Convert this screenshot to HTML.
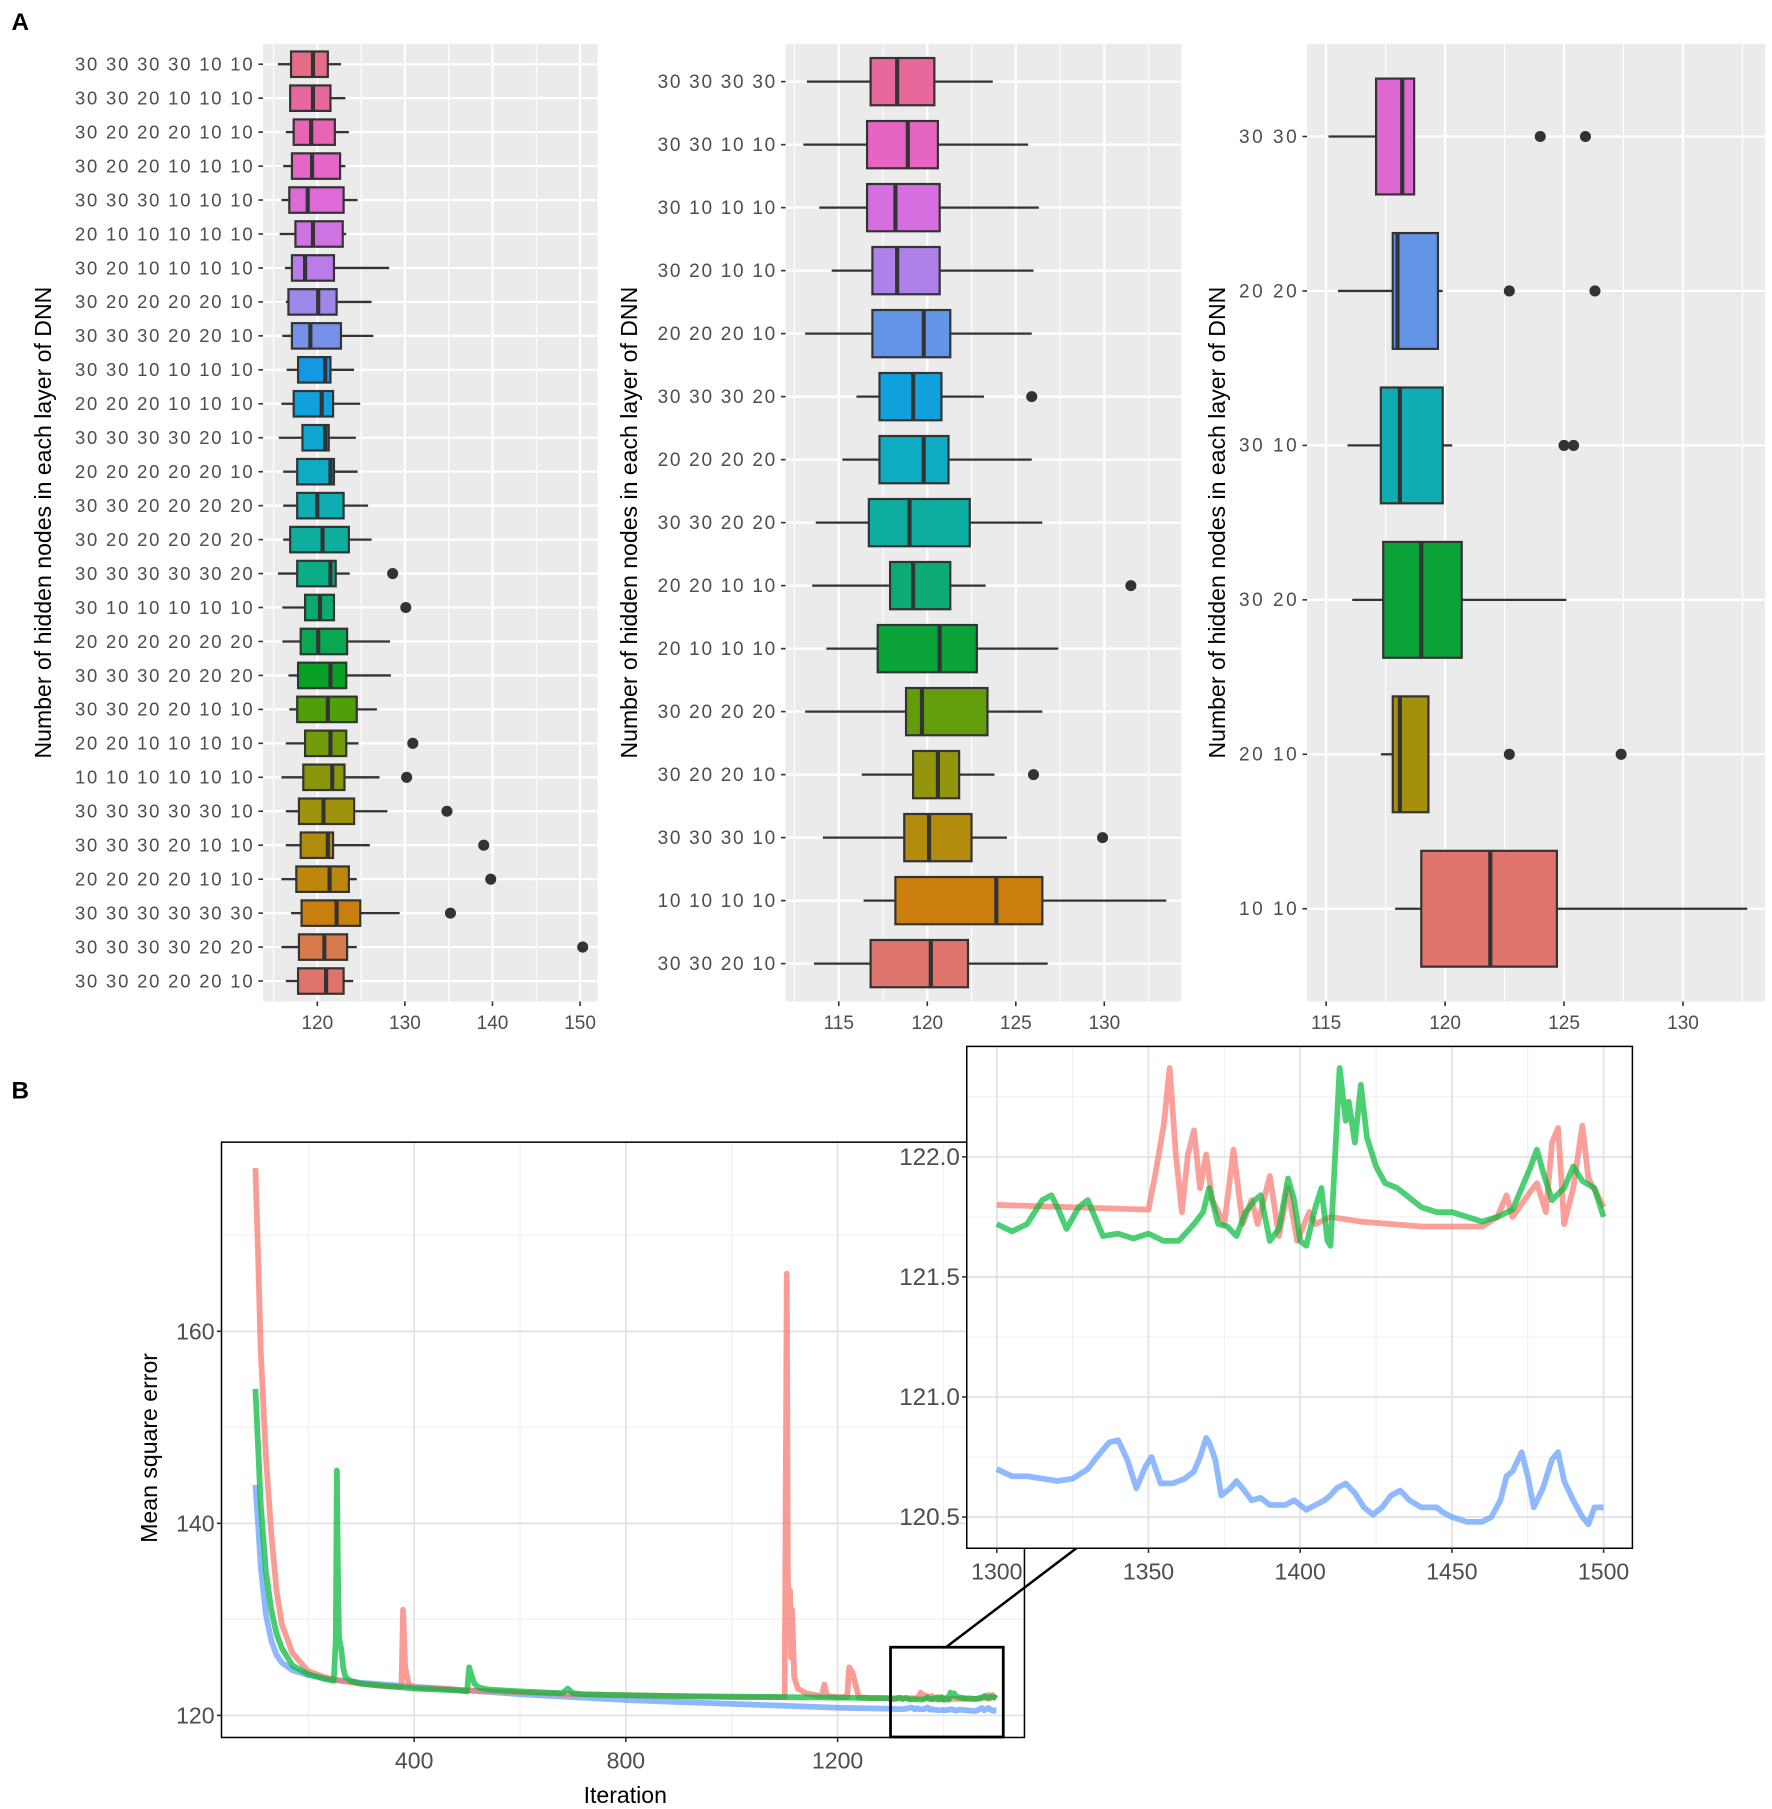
<!DOCTYPE html>
<html><head><meta charset="utf-8"><style>
html,body{margin:0;padding:0;background:#fff;}
svg{display:block;}
text{font-family:"Liberation Sans",Arial,sans-serif;}
</style></head><body>
<svg id="fig" width="1772" height="1809" viewBox="0 0 1536 1568" preserveAspectRatio="none" xmlns="http://www.w3.org/2000/svg">
<rect width="1536" height="1568" fill="#fff"/>
<text x="10" y="26" font-size="21" font-weight="bold">A</text>
<text x="10" y="952" font-size="21" font-weight="bold">B</text>
</svg>
<script>
// ---------- Panel A data ----------
const labels1 = ["30 30 30 30 10 10","30 30 20 10 10 10","30 20 20 20 10 10","30 20 20 10 10 10","30 30 30 10 10 10","20 10 10 10 10 10","30 20 10 10 10 10","30 20 20 20 20 10","30 30 30 20 20 10","30 30 10 10 10 10","20 20 20 10 10 10","30 30 30 30 20 10","20 20 20 20 20 10","30 30 20 20 20 20","30 20 20 20 20 20","30 30 30 30 30 20","30 10 10 10 10 10","20 20 20 20 20 20","30 30 30 20 20 20","30 30 20 20 10 10","20 20 10 10 10 10","10 10 10 10 10 10","30 30 30 30 30 10","30 30 30 20 10 10","20 20 20 20 10 10","30 30 30 30 30 30","30 30 30 30 20 20","30 30 20 20 20 10"];
const lo1  = [115.5,116.8,116.4,116.1,115.9,115.7,116.3,116.4,116.0,116.5,115.9,115.6,116.1,116.1,116.1,115.5,116.0,116.0,116.7,116.8,116.4,115.9,116.4,116.4,115.9,117.0,115.9,116.4];
const q1_1 = [117.0,116.9,117.3,117.1,116.8,117.5,117.1,116.7,117.1,117.8,117.3,118.3,117.7,117.7,116.9,117.7,118.6,118.1,117.8,117.7,118.6,118.4,117.9,118.1,117.6,118.2,117.9,117.8];
const med1 = [119.5,119.5,119.3,119.4,118.9,119.5,118.6,120.1,119.2,120.9,120.5,120.9,121.5,120.0,120.6,121.5,120.3,120.1,121.5,121.2,121.5,121.7,120.7,121.2,121.4,122.2,120.8,121.0];
const q3_1 = [121.2,121.5,122.0,122.6,123.0,122.9,121.9,122.2,122.7,121.5,121.8,121.3,121.9,123.0,123.6,122.1,121.9,123.4,123.3,124.5,123.3,123.1,124.2,121.8,123.6,124.9,123.4,123.0];
const hi1  = [122.7,123.2,123.6,123.2,124.6,123.3,128.2,126.2,126.4,124.2,124.9,124.4,124.6,125.8,126.2,123.7,122.0,128.3,128.4,126.8,124.7,127.1,128.0,126.0,124.5,129.4,124.5,124.1];
const out1 = [[],[],[],[],[],[],[],[],[],[],[],[],[],[],[],[128.6],[130.1],[],[],[],[130.9],[130.2],[134.8],[139.0],[139.8],[135.2],[150.3],[]];
const ticks1 = [120,130,140,150];

const labels2 = ["30 30 30 30","30 30 10 10","30 10 10 10","30 20 10 10","20 20 20 10","30 30 30 20","20 20 20 20","30 30 20 20","20 20 10 10","20 10 10 10","30 20 20 20","30 20 20 10","30 30 30 10","10 10 10 10","30 30 20 10"];
const lo2  = [113.2,113.0,113.9,114.6,113.1,116.0,115.2,113.7,113.5,114.3,113.1,116.3,114.1,116.4,113.6];
const q1_2 = [116.8,116.6,116.6,116.9,116.9,117.3,117.3,116.7,117.9,117.2,118.8,119.2,118.7,118.2,116.8];
const med2 = [118.3,118.9,118.2,118.3,119.8,119.2,119.8,119.0,119.2,120.7,119.7,120.6,120.1,123.9,120.2];
const q3_2 = [120.4,120.6,120.7,120.7,121.3,120.8,121.2,122.4,121.3,122.8,123.4,121.8,122.5,126.5,122.3];
const hi2  = [123.7,125.7,126.3,126.0,125.9,123.2,125.9,126.5,123.3,127.4,126.5,123.8,124.5,133.5,126.8];
const out2 = [[],[],[],[],[],[125.9],[],[],[131.5],[],[],[126.0],[129.9],[],[]];
const ticks2 = [115,120,125,130];

const labels3 = ["30 30","20 20","30 10","30 20","20 10","10 10"];
const lo3  = [115.1,115.5,115.9,116.1,117.3,117.9];
const q1_3 = [117.1,117.8,117.3,117.4,117.8,119.0];
const med3 = [118.2,118.0,118.1,119.0,118.1,121.9];
const q3_3 = [118.7,119.7,119.9,120.7,119.3,124.7];
const hi3  = [118.7,119.9,120.3,125.1,119.3,132.7];
const out3 = [[124.0,125.9],[122.7,126.3],[125.0,125.4],[],[122.7,127.4],[]];
const ticks3 = [115,120,125,130];

// ---------- Panel B data ----------
const redIt = [100,105,110,120,130,140,150,170,200,230,260,300,350,376,379,383,390,400,450,500,600,700,800,900,1000,1050,1100,1104,1106,1108,1110,1112,1114,1118,1125,1140,1160,1170,1175,1180,1200,1218,1222,1228,1240,1260,1290];
const redV  = [177,168,158,147,139,133,129.5,126.5,124.6,124,123.6,123.3,123,123,131,125,123.2,122.9,122.8,122.6,122.4,122.2,122.1,122,121.9,121.9,121.9,166,135,130,133,126,131,124,122.8,122.3,122.1,122,123.2,122,121.9,121.9,125,124.5,121.9,121.8,121.8];
const greenIt = [100,105,110,120,130,140,150,170,200,230,248,252,254,256,258,262,266,270,280,300,400,480,500,504,508,514,522,540,600,680,690,700,720,800,900,1000,1100,1200,1290];
const greenV  = [154,148,142,135,131,128.5,127,125.2,124.3,123.8,123.6,128,145.5,135,128,127,125,124,123.6,123.3,122.8,122.6,122.5,125,124.2,123.3,122.9,122.7,122.5,122.3,122.8,122.3,122.2,122.1,122,121.95,121.9,121.85,121.8];
const blueIt = [100,105,110,120,130,140,150,170,200,250,300,400,500,600,700,800,900,1000,1100,1200,1290];
const blueV  = [144,140,135.5,130.5,127.8,126.3,125.5,124.7,124.2,123.7,123.4,123,122.6,122.2,121.9,121.6,121.4,121.2,121,120.8,120.7];

const zRedIt = [1300,1350,1352,1355,1357,1359,1361,1363,1365,1367,1369,1371,1375,1378,1381,1384,1386,1390,1393,1396,1399,1403,1405,1410,1420,1440,1460,1465,1468,1470,1475,1478,1481,1483,1485,1487,1490,1493,1495,1498,1500];
const zRedV  = [121.80,121.78,121.91,122.13,122.37,122.01,121.77,122.01,122.11,121.87,122.01,121.82,121.72,122.03,121.72,121.82,121.72,121.92,121.67,121.87,121.65,121.77,121.72,121.75,121.73,121.71,121.71,121.75,121.84,121.75,121.84,121.89,121.77,122.06,122.12,121.72,121.87,122.13,121.91,121.84,121.79];
const zGreenIt = [1300,1305,1310,1315,1318,1320,1323,1327,1330,1335,1340,1345,1350,1355,1360,1365,1368,1370,1373,1376,1379,1382,1385,1387,1390,1393,1396,1398,1400,1402,1405,1407,1409,1410,1413,1415,1416,1418,1420,1422,1425,1428,1432,1437,1440,1445,1450,1455,1460,1465,1470,1473,1476,1478,1480,1483,1487,1490,1493,1497,1500];
const zGreenV  = [121.72,121.69,121.72,121.82,121.84,121.79,121.70,121.79,121.82,121.67,121.68,121.66,121.68,121.65,121.65,121.72,121.77,121.87,121.72,121.71,121.67,121.77,121.82,121.84,121.65,121.70,121.91,121.82,121.65,121.63,121.79,121.87,121.65,121.63,122.37,122.15,122.23,122.06,122.30,122.08,121.96,121.89,121.87,121.82,121.79,121.77,121.77,121.75,121.73,121.75,121.78,121.87,121.96,122.03,121.94,121.82,121.87,121.96,121.90,121.87,121.75];
const zBlueIt = [1300,1305,1310,1315,1320,1325,1330,1333,1337,1340,1343,1346,1349,1351,1354,1358,1362,1365,1367,1369,1370,1372,1374,1377,1379,1381,1384,1387,1390,1395,1398,1402,1405,1408,1410,1412,1415,1418,1421,1424,1427,1430,1433,1436,1440,1445,1447,1450,1455,1460,1463,1466,1468,1470,1473,1475,1477,1480,1483,1485,1487,1490,1493,1495,1497,1500];
const zBlueV  = [120.70,120.67,120.67,120.66,120.65,120.66,120.70,120.75,120.81,120.82,120.74,120.62,120.71,120.75,120.64,120.64,120.66,120.69,120.75,120.83,120.81,120.74,120.59,120.62,120.65,120.62,120.57,120.58,120.55,120.55,120.57,120.53,120.55,120.57,120.59,120.62,120.64,120.60,120.54,120.51,120.54,120.59,120.61,120.57,120.54,120.54,120.52,120.50,120.48,120.48,120.50,120.57,120.67,120.69,120.77,120.67,120.54,120.62,120.74,120.77,120.65,120.57,120.50,120.47,120.54,120.54];
const mainXTicks = [400,800,1200];
const mainYTicks = [120,140,160];
const zXTicks = [1300,1350,1400,1450,1500];
const zYTicks = [120.5,121.0,121.5,122.0];

// ---------- helpers ----------
const NS = "http://www.w3.org/2000/svg";
const svg = document.getElementById('fig');
function el(tag, attrs, parent){
  const e = document.createElementNS(NS, tag);
  for (const k in attrs) e.setAttribute(k, attrs[k]);
  (parent||svg).appendChild(e);
  return e;
}
function lin(d0,d1,r0,r1){ return v => r0 + (v-d0)*(r1-r0)/(d1-d0); }
function hcl(h,c,l){
  const hr=h*Math.PI/180, U=c*Math.cos(hr), V=c*Math.sin(hr);
  const Xn=95.047,Yn=100,Zn=108.883;
  const Y = l>8 ? Yn*Math.pow((l+16)/116,3) : Yn*l/903.3;
  const den=Xn+15*Yn+3*Zn, un=4*Xn/den, vn=9*Yn/den;
  const up=U/(13*l)+un, vp=V/(13*l)+vn;
  const X=9*Y*up/(4*vp), Z=Y*(12-3*up-20*vp)/(4*vp);
  const x=X/100,y=Y/100,z=Z/100;
  let r=3.2404542*x-1.5371385*y-0.4985314*z;
  let g=-0.9692660*x+1.8760108*y+0.0415560*z;
  let b=0.0556434*x-0.2040259*y+1.0572252*z;
  const gm=v=>{v=v<=0.0031308?12.92*v:1.055*Math.pow(v,1/2.4)-0.055;return Math.max(0,Math.min(1,v))*255;};
  const R=gm(r),G=gm(g),B=gm(b);
  const avg=(R+G+B)/3, s=0.88, k=0.94;
  const f=v=>Math.round(Math.max(0,Math.min(255,(avg+(v-avg)*s)*k)));
  return `rgb(${f(R)},${f(G)},${f(B)})`;
}

function boxPanel(cfg){
  const {x0,x1,y0,y1,dmin,dmax,labels,lo,q1,med,q3,hi,out,ticks,minor,labelSize,labelLen,title,titleX,name} = cfg;
  const g = el('g',{});
  
  
  const sx = lin(dmin,dmax,x0,x1);
  const n = labels.length;
  const step = (y1-y0)/(n+0.2);
  const sy = i => y0 + (i+0.6)*step;
  const bg = el('rect',{x:x0,y:y0,width:x1-x0,height:y1-y0,fill:'#EBEBEB'},g);
  
  
  minor.forEach(t=>el('line',{x1:sx(t),x2:sx(t),y1:y0,y2:y1,stroke:'#fff','stroke-width':0.9},g));
  ticks.forEach(t=>el('line',{x1:sx(t),x2:sx(t),y1:y0,y2:y1,stroke:'#fff','stroke-width':1.9},g));
  for(let i=0;i<n;i++) el('line',{x1:x0,x2:x1,y1:sy(i),y2:sy(i),stroke:'#fff','stroke-width':1.9},g);
  const bh = step*0.75;
  for(let i=0;i<n;i++){
    const y=sy(i);
    const col = hcl(15+360*(n-1-i)/n,100,65);
    const wl = el('line',{x1:sx(lo[i]),x2:sx(q1[i]),y1:y,y2:y,stroke:'#333','stroke-width':2},g);
    
    
    const wh = el('line',{x1:sx(q3[i]),x2:sx(hi[i]),y1:y,y2:y,stroke:'#333','stroke-width':2},g);
    
    
    const b = el('rect',{x:sx(q1[i]),y:y-bh/2,width:sx(q3[i])-sx(q1[i]),height:bh,fill:col,stroke:'#333','stroke-width':1.9},g);
    
    
    const m = el('line',{x1:sx(med[i]),x2:sx(med[i]),y1:y-bh/2,y2:y+bh/2,stroke:'#333','stroke-width':3.6},g);
    
    
    out[i].forEach(o=>{
      const c=el('circle',{cx:sx(o),cy:y,r:4.8,fill:'#333'},g);
      
      
    });
    el('line',{x1:x0-4,x2:x0,y1:y,y2:y,stroke:'#333','stroke-width':1.4},g);
    const t = el('text',{x:x0-9,y:y+5.5,'text-anchor':'end','font-size':labelSize,fill:'#4D4D4D',textLength:labelLen,lengthAdjust:'spacing'},g);
    t.textContent = labels[i];
    
    
  }
  ticks.forEach(tv=>{
    el('line',{x1:sx(tv),x2:sx(tv),y1:y1,y2:y1+4,stroke:'#333','stroke-width':1.4},g);
    const t=el('text',{x:sx(tv),y:y1+24,'text-anchor':'middle','font-size':16.5,fill:'#4D4D4D'},g);
    t.textContent=tv;
    
    
  });
  const yt = el('text',{x:titleX,y:(y0+y1)/2,'text-anchor':'middle','font-size':20,fill:'#000',transform:`rotate(-90 ${titleX} ${(y0+y1)/2})`},g);
  yt.textContent = title;
  
  
}
const T = "Number of hidden nodes in each layer of DNN";
boxPanel({name:'boxplot-six-layer',x0:228,x1:518,y0:38,y1:868,dmin:113.8,dmax:152.0,labels:labels1,lo:lo1,q1:q1_1,med:med1,q3:q3_1,hi:hi1,out:out1,ticks:ticks1,minor:[115,125,135,145],labelSize:16,labelLen:154,title:T,titleX:44});
boxPanel({name:'boxplot-four-layer',x0:681,x1:1024,y0:38,y1:868,dmin:112.0,dmax:134.35,labels:labels2,lo:lo2,q1:q1_2,med:med2,q3:q3_2,hi:hi2,out:out2,ticks:ticks2,minor:[112.5,117.5,122.5,127.5,132.5],labelSize:16.5,labelLen:102,title:T,titleX:552});
boxPanel({name:'boxplot-two-layer',x0:1133,x1:1530,y0:38,y1:868,dmin:114.2,dmax:133.45,labels:labels3,lo:lo3,q1:q1_3,med:med3,q3:q3_3,hi:hi3,out:out3,ticks:ticks3,minor:[117.5,122.5,127.5,132.5],labelSize:16.5,labelLen:50,title:T,titleX:1062});

// ---------- Panel B main ----------
const RED='#F8766D', GREEN='#00BA38', BLUE='#619CFF';
(function(){
  const x0=192,x1=888,y0=990,y1=1506;
  const sx=lin(36,1553,x0,x1), sy=lin(117.7,179.7,y1,y0);
  const g=el('g',{});
  
  
  el('rect',{x:x0,y:y0,width:x1-x0,height:y1-y0,fill:'#fff'},g);
  [200,600,1000,1400].forEach(t=>el('line',{x1:sx(t),x2:sx(t),y1:y0,y2:y1,stroke:'#F0F0F0','stroke-width':1},g));
  [130,150,170].forEach(t=>el('line',{x1:x0,x2:x1,y1:sy(t),y2:sy(t),stroke:'#F0F0F0','stroke-width':1},g));
  mainXTicks.forEach(t=>el('line',{x1:sx(t),x2:sx(t),y1:y0,y2:y1,stroke:'#E3E3E3','stroke-width':1.6},g));
  mainYTicks.forEach(t=>el('line',{x1:x0,x2:x1,y1:sy(t),y2:sy(t),stroke:'#E3E3E3','stroke-width':1.6},g));
  const cp=el('clipPath',{id:'mclip'},g);
  el('rect',{x:x0,y:y0,width:x1-x0,height:y1-y0},cp);
  const series=[[blueIt.concat(zBlueIt),blueV.concat(zBlueV),BLUE,'blue'],[redIt.concat(zRedIt),redV.concat(zRedV),RED,'red'],[greenIt.concat(zGreenIt),greenV.concat(zGreenV),GREEN,'green']];
  series.forEach(([xs,ys,c,nm])=>{
    const d=xs.map((x,i)=>(i?'L':'M')+sx(x).toFixed(1)+','+sy(ys[i]).toFixed(1)).join('');
    const p=el('path',{d,fill:'none',stroke:c,'stroke-width':5,'stroke-opacity':0.72,'stroke-linejoin':'round','clip-path':'url(#mclip)'},g);
    
    
  });
  el('rect',{x:x0,y:y0,width:x1-x0,height:y1-y0,fill:'none',stroke:'#000','stroke-width':1.3},g);
  mainXTicks.forEach(t=>{
    el('line',{x1:sx(t),x2:sx(t),y1:y1,y2:y1+4,stroke:'#333','stroke-width':1.4},g);
    const tx=el('text',{x:sx(t),y:y1+27,'text-anchor':'middle','font-size':20,fill:'#4D4D4D'},g);
    tx.textContent=t;
    
    
  });
  mainYTicks.forEach(t=>{
    el('line',{x1:x0-4,x2:x0,y1:sy(t),y2:sy(t),stroke:'#333','stroke-width':1.4},g);
    const tx=el('text',{x:x0-6,y:sy(t)+7,'text-anchor':'end','font-size':20,fill:'#4D4D4D'},g);
    tx.textContent=t;
    
    
  });
  const xt=el('text',{x:542,y:1563,'text-anchor':'middle','font-size':20,fill:'#000'},g);
  xt.textContent='Iteration';
  
  
  const yt=el('text',{x:136,y:1255,'text-anchor':'middle','font-size':20,fill:'#000',transform:'rotate(-90 136 1255)'},g);
  yt.textContent='Mean square error';
  
  
  const zb=el('rect',{x:sx(1300),y:sy(127.1),width:sx(1513)-sx(1300),height:sy(117.75)-sy(127.1),fill:'none',stroke:'#000','stroke-width':2.4},g);
  
  
  const zl=el('line',{x1:820,y1:sy(127.1),x2:933,y2:1342,stroke:'#000','stroke-width':2.2},g);
  
  
})();

// ---------- Panel B inset ----------
(function(){
  const x0=838,x1=1415,y0=907,y1=1342;
  const sx=lin(1290.1,1509.5,x0,x1), sy=lin(120.37,122.46,y1,y0);
  const g=el('g',{});
  
  
  el('rect',{x:x0,y:y0,width:x1-x0,height:y1-y0,fill:'#fff'},g);
  [1325,1375,1425,1475].forEach(t=>el('line',{x1:sx(t),x2:sx(t),y1:y0,y2:y1,stroke:'#F0F0F0','stroke-width':1},g));
  [120.75,121.25,121.75,122.25].forEach(t=>el('line',{x1:x0,x2:x1,y1:sy(t),y2:sy(t),stroke:'#F0F0F0','stroke-width':1},g));
  zXTicks.forEach(t=>el('line',{x1:sx(t),x2:sx(t),y1:y0,y2:y1,stroke:'#E3E3E3','stroke-width':1.6},g));
  zYTicks.forEach(t=>el('line',{x1:x0,x2:x1,y1:sy(t),y2:sy(t),stroke:'#E3E3E3','stroke-width':1.6},g));
  const cp=el('clipPath',{id:'zclip'},g);
  el('rect',{x:x0,y:y0,width:x1-x0,height:y1-y0},cp);
  [[zBlueIt,zBlueV,BLUE,'blue'],[zRedIt,zRedV,RED,'red'],[zGreenIt,zGreenV,GREEN,'green']].forEach(([xs,ys,c,nm])=>{
    const d=xs.map((x,i)=>(i?'L':'M')+sx(x).toFixed(1)+','+sy(ys[i]).toFixed(1)).join('');
    const p=el('path',{d,fill:'none',stroke:c,'stroke-width':5,'stroke-opacity':0.7,'stroke-linejoin':'round','clip-path':'url(#zclip)'},g);
    
    
  });
  el('rect',{x:x0,y:y0,width:x1-x0,height:y1-y0,fill:'none',stroke:'#000','stroke-width':1.3},g);
  zXTicks.forEach(t=>{
    el('line',{x1:sx(t),x2:sx(t),y1:y1,y2:y1+4,stroke:'#333','stroke-width':1.4},g);
    const tx=el('text',{x:sx(t),y:y1+27,'text-anchor':'middle','font-size':20,fill:'#4D4D4D'},g);
    tx.textContent=t;
    
    
  });
  zYTicks.forEach(t=>{
    el('line',{x1:x0-4,x2:x0,y1:sy(t),y2:sy(t),stroke:'#333','stroke-width':1.4},g);
    const tx=el('text',{x:x0-6,y:sy(t)+7,'text-anchor':'end','font-size':21,fill:'#4D4D4D'},g);
    tx.textContent=t.toFixed(1);
    
    
  });
})();
</script>
</body></html>
